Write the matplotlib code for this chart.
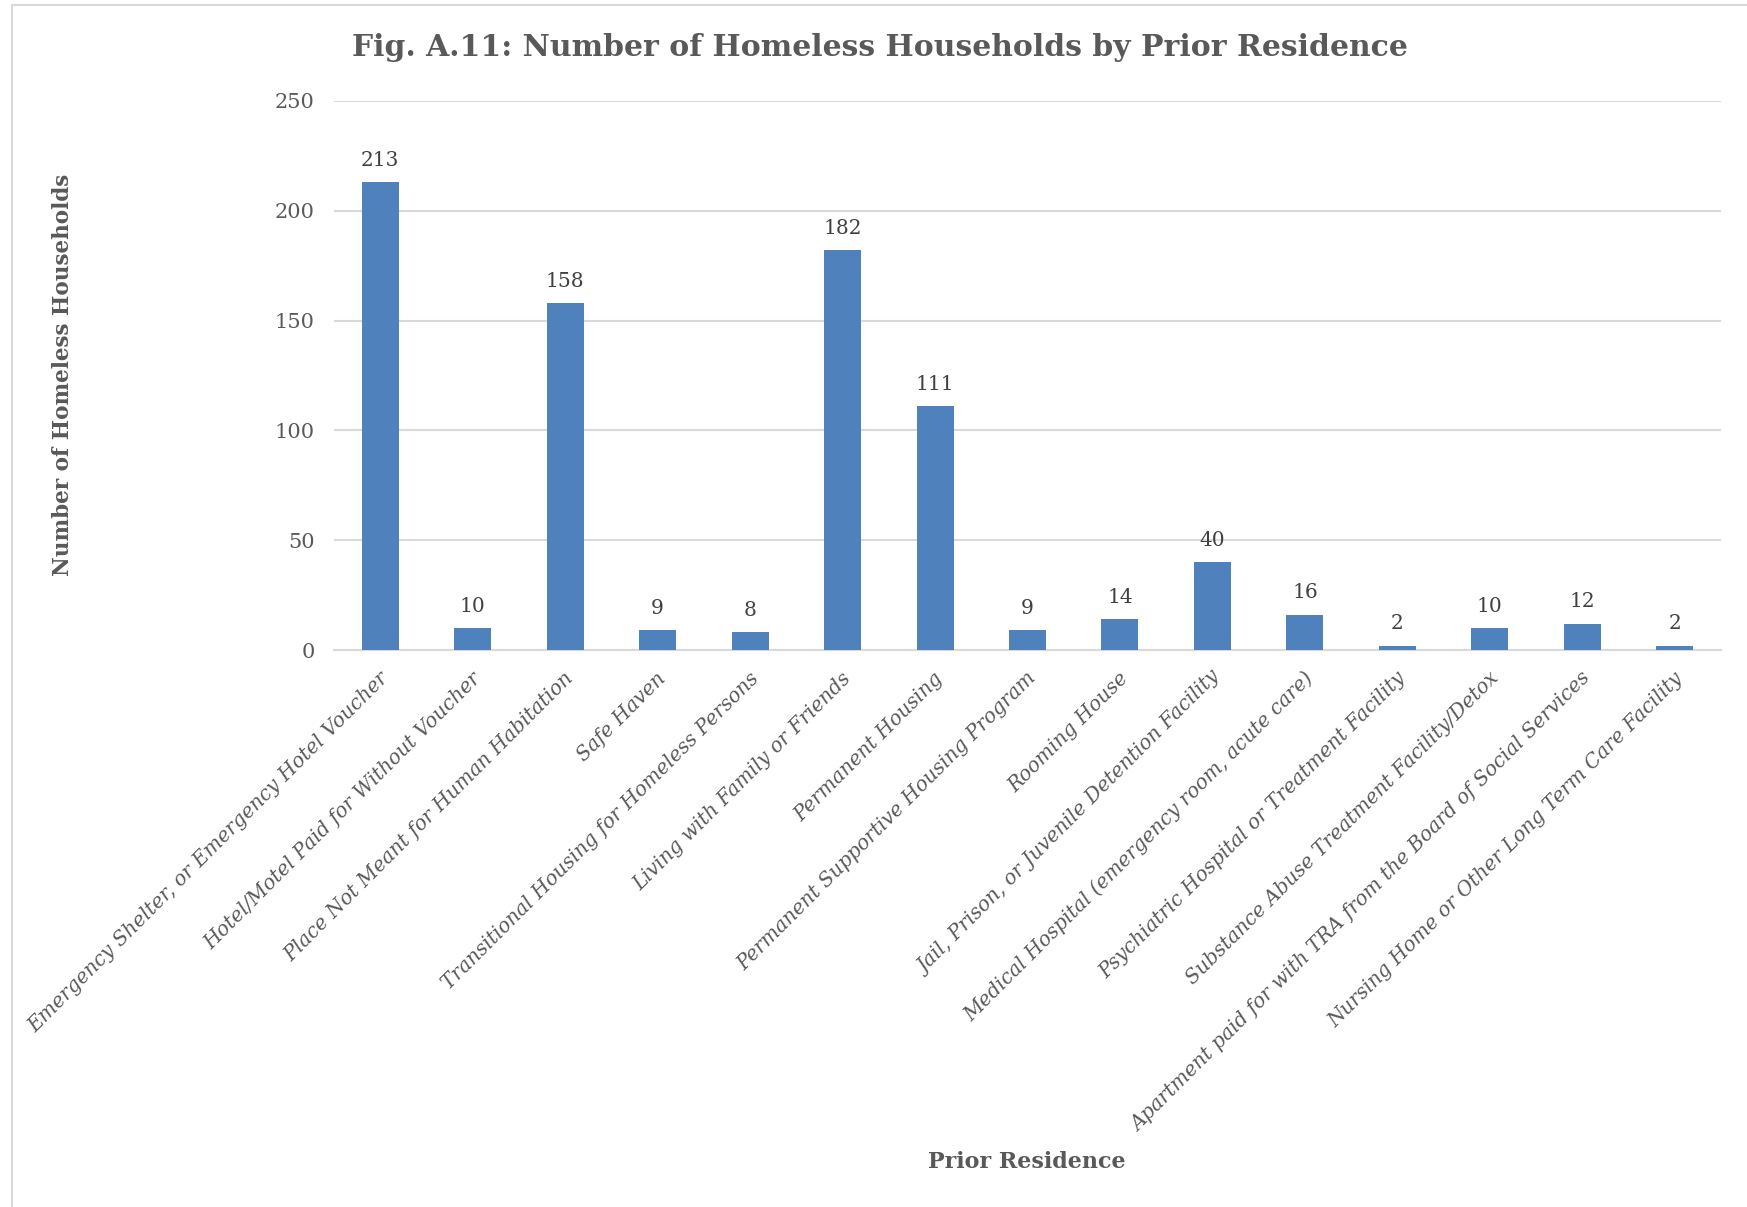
import numpy as np
import matplotlib.pyplot as plt
from matplotlib.patches import Rectangle
from matplotlib.transforms import ScaledTranslation

categories = [
    "Emergency Shelter, or Emergency Hotel Voucher",
    "Hotel/Motel Paid for Without Voucher",
    "Place Not Meant for Human Habitation",
    "Safe Haven",
    "Transitional Housing for Homeless Persons",
    "Living with Family or Friends",
    "Permanent Housing",
    "Permanent Supportive Housing Program",
    "Rooming House",
    "Jail, Prison, or Juvenile Detention Facility",
    "Medical Hospital (emergency room, acute care)",
    "Psychiatric Hospital or Treatment Facility",
    "Substance Abuse Treatment Facility/Detox",
    "Apartment paid for with TRA from the Board of Social Services",
    "Nursing Home or Other Long Term Care Facility",
]
households = [213, 10, 158, 9, 8, 182, 111, 9, 14, 40, 16, 2, 10, 12, 2]
yticks = [0, 50, 100, 150, 200, 250]

plt.rcParams['font.family'] = ['DejaVu Serif']
W, H = 1747, 1207
fig = plt.figure(figsize=(W / 100, H / 100), dpi=100)
ax = fig.add_axes([334 / W, 1 - 650 / H, (1721 - 334) / W, (650 - 101) / H])

x = np.arange(len(categories))
bars = ax.bar(x, households, width=0.4, color='#4F81BD', zorder=3)
for xi, v in zip(x, households):
    ax.annotate(str(v), (xi, v), xytext=(0, 9), textcoords='offset points',
                ha='center', va='bottom', fontsize=14.5, color='#404040')

ax.set_xlim(-0.5, len(categories) - 0.5)
ax.set_ylim(0, 250)
ax.set_yticks(yticks)
ax.set_yticklabels([str(t) for t in yticks], fontsize=15, color='#595959')
ax.yaxis.grid(True, color='#D9D9D9', linewidth=1.5, zorder=0)
ax.tick_params(axis='both', length=0)
ax.tick_params(axis='y', pad=14)
for s in ['top', 'right', 'left']:
    ax.spines[s].set_visible(False)
ax.spines['bottom'].set_color('#D9D9D9')
ax.spines['bottom'].set_linewidth(1.5)

ax.set_xticks(x)
ax.set_xticklabels(categories, rotation=45, ha='right', va='center',
                   rotation_mode='anchor', fontsize=14.4, style='italic',
                   color='#595959')
off = ScaledTranslation(5.5 / 100, -20.5 / 100, fig.dpi_scale_trans)
for lab in ax.get_xticklabels():
    lab.set_transform(lab.get_transform() + off)

ax.set_ylabel('Number of Homeless Households', fontsize=15.5, fontweight='bold',
              color='#595959')
ax.yaxis.set_label_coords(74 / W, 1 - 375 / H, transform=fig.transFigure)
fig.text(1027 / W, 1 - 1162 / H, 'Prior Residence', ha='center', va='center',
         fontsize=16, fontweight='bold', color='#595959')
fig.text(880 / W, 1 - 48 / H, 'Fig. A.11: Number of Homeless Households by Prior Residence',
         ha='center', va='center', fontsize=21.5, fontweight='bold', color='#595959')

# chart frame (only left and top edges visible)
fig.patches.append(Rectangle((12 / W, -0.05), 1.1, 1.05 - 5 / H, transform=fig.transFigure,
                             fill=False, edgecolor='#D9D9D9', linewidth=1.5))

fig.savefig('out.png', dpi=100)
